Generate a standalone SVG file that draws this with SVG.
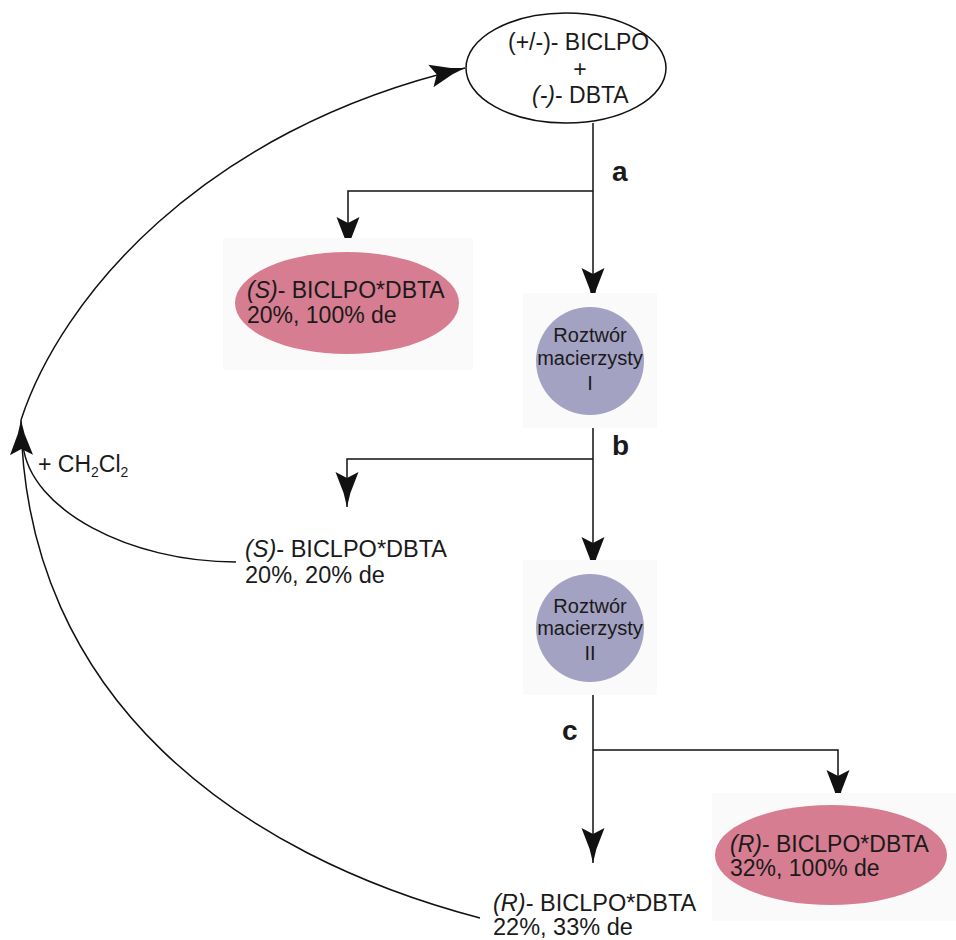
<svg xmlns="http://www.w3.org/2000/svg" width="956" height="940" viewBox="0 0 956 940">
  <style>
    text { font-family: "Liberation Sans", Arial, sans-serif; fill: #1a1a1a; }
    .lbl { font-size: 23px; }
    .big { font-size: 23.5px; }
    .small { font-size: 20px; }
    .step { font-size: 28px; font-weight: bold; }
    .it { font-style: italic; }
    .line { fill: none; stroke: #111; stroke-width: 1.5; }
    .pad { fill: #fafafa; }
    .pink { fill: #d67d91; }
    .lav { fill: #a4a2c2; }
  </style>
  <defs>
    <marker id="arr" viewBox="0 0 36 24" markerWidth="36" markerHeight="24" refX="35" refY="12" orient="auto" markerUnits="userSpaceOnUse">
      <path d="M35,12 L21,8.6 L0,0.5 L6,12 L0,23.5 L21,15.4 Z" fill="#111"/>
    </marker>
  </defs>

  <!-- connectors -->
  <g id="connectors">
    <!-- step a -->
    <path class="line" d="M593,123 V303" marker-end="url(#arr)"/>
    <path class="line" d="M593,191 H348 V252" marker-end="url(#arr)"/>
    <!-- step b -->
    <path class="line" d="M593,414 V572" marker-end="url(#arr)"/>
    <path class="line" d="M593,459 H347 V507" marker-end="url(#arr)"/>
    <!-- step c -->
    <path class="line" d="M593,682 V863" marker-end="url(#arr)"/>
    <path class="line" d="M593,750 H838 V805" marker-end="url(#arr)"/>
    <!-- recycling of the mother-liquor salts -->
    <path class="line" d="M480,918 C240,855 25,700 21,420" marker-end="url(#arr)"/>
    <path class="line" d="M236,562 C130,562 30,510 23,445"/>
    <path class="line" d="M21,420 C60,300 200,130 465,68" marker-end="url(#arr)"/>
  </g>

  <!-- starting mixture -->
  <g id="start">
    <ellipse cx="566" cy="68" rx="100" ry="55" fill="#fff" stroke="#111" stroke-width="1.5"/>
    <text class="lbl" x="508" y="50">(+/-)- BICLPO</text>
    <text class="lbl" x="580" y="77" text-anchor="middle">+</text>
    <text class="lbl" x="532" y="103"><tspan class="it">(-)</tspan>- DBTA</text>
  </g>

  <g id="labels">
    <text class="step" x="612" y="181">a</text>
    <text class="step" x="612" y="455">b</text>
    <text class="step" x="562" y="740">c</text>
    <text class="lbl" x="38" y="472">+ CH<tspan font-size="14" dy="5">2</tspan><tspan dy="-5">Cl</tspan><tspan font-size="14" dy="5">2</tspan></text>
  </g>

  <g id="s-salt-1">
    <rect class="pad" x="223" y="238" width="250" height="132"/>
    <ellipse class="pink" cx="347" cy="303" rx="112" ry="51"/>
    <text class="lbl" x="247" y="298"><tspan class="it">(S)</tspan>- BICLPO*DBTA</text>
    <text class="lbl" x="247" y="323">20%, 100% de</text>
  </g>

  <g id="mother-liquor-1">
    <rect class="pad" x="523" y="293" width="134" height="135"/>
    <circle class="lav" cx="590" cy="361" r="54"/>
    <text class="small" x="590" y="342" text-anchor="middle">Roztwór</text>
    <text class="small" x="590" y="365" text-anchor="middle">macierzysty</text>
    <text class="small" x="590" y="390" text-anchor="middle">I</text>
  </g>

  <g id="s-salt-2">
    <text class="big" x="245" y="557"><tspan class="it">(S)</tspan>- BICLPO*DBTA</text>
    <text class="big" x="245" y="583">20%, 20% de</text>
  </g>

  <g id="mother-liquor-2">
    <rect class="pad" x="523" y="560" width="134" height="135"/>
    <circle class="lav" cx="590" cy="628" r="54"/>
    <text class="small" x="590" y="613" text-anchor="middle">Roztwór</text>
    <text class="small" x="590" y="635" text-anchor="middle">macierzysty</text>
    <text class="small" x="590" y="660" text-anchor="middle">II</text>
  </g>

  <g id="r-salt-1">
    <rect class="pad" x="712" y="793" width="244" height="128"/>
    <ellipse class="pink" cx="831" cy="855" rx="116" ry="50"/>
    <text class="lbl" x="730" y="852"><tspan class="it">(R)</tspan>- BICLPO*DBTA</text>
    <text class="lbl" x="730" y="876">32%, 100% de</text>
  </g>

  <g id="r-salt-2">
    <text class="big" x="493" y="911"><tspan class="it">(R)</tspan>- BICLPO*DBTA</text>
    <text class="big" x="493" y="935">22%, 33% de</text>
  </g>
</svg>
